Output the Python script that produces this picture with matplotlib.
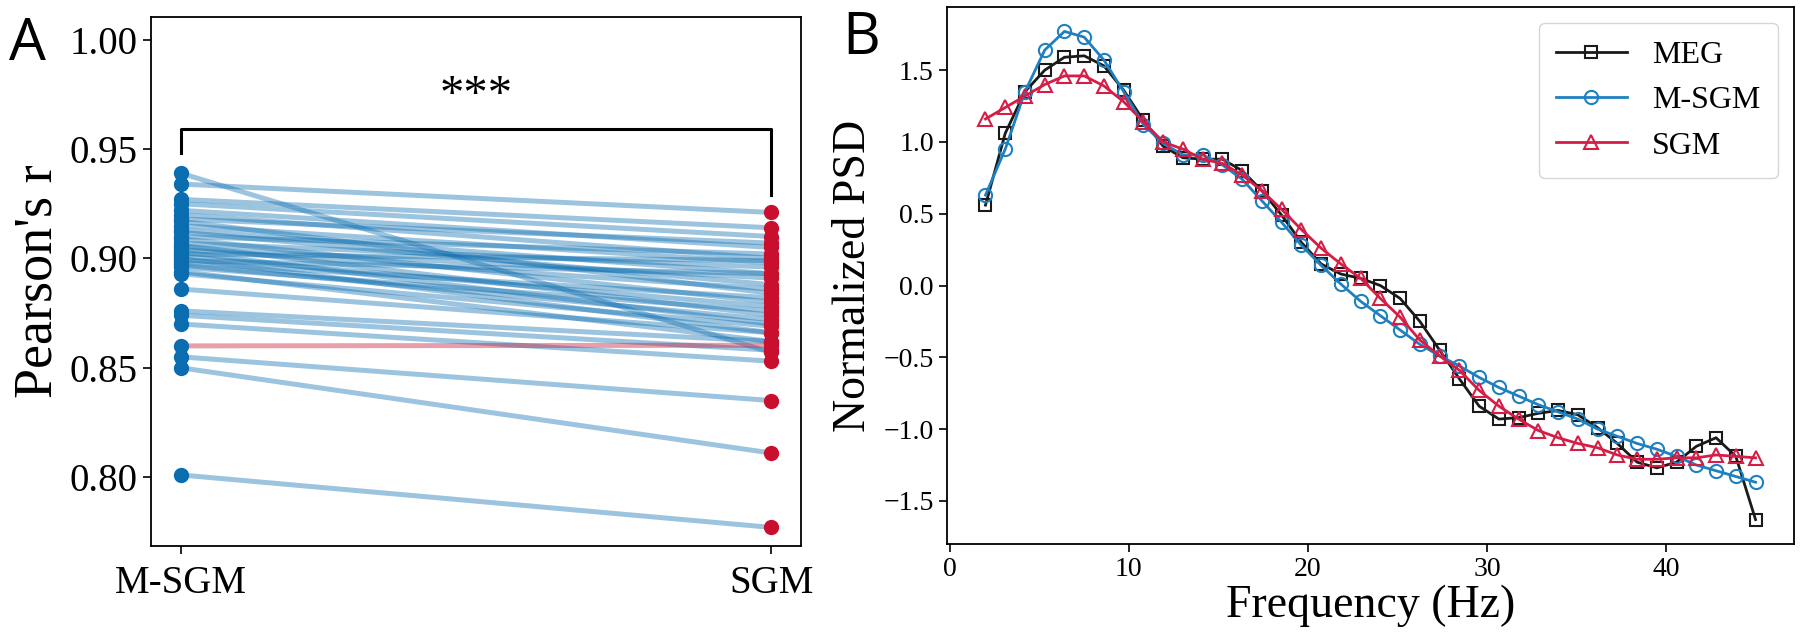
import numpy as np
import matplotlib
matplotlib.use("Agg")
import matplotlib.pyplot as plt

# panel A: per-subject Pearson's r
msgm_r = [0.939, 0.934, 0.927, 0.925, 0.922, 0.920, 0.918, 0.917, 0.915, 0.913,
          0.912, 0.910, 0.909, 0.907, 0.906, 0.905, 0.904, 0.903, 0.902, 0.901,
          0.900, 0.899, 0.898, 0.897, 0.896, 0.894, 0.893, 0.886, 0.876, 0.874,
          0.870, 0.860, 0.855, 0.850, 0.801]
sgm_r = [0.857, 0.921, 0.914, 0.910, 0.905, 0.900, 0.907, 0.884, 0.898, 0.893,
         0.888, 0.902, 0.880, 0.896, 0.874, 0.891, 0.886, 0.870, 0.899, 0.878,
         0.866, 0.893, 0.882, 0.872, 0.876, 0.862, 0.869, 0.866, 0.862, 0.858,
         0.853, 0.8603, 0.835, 0.811, 0.777]
models = ["M-SGM", "SGM"]

# panel B: normalized PSD
freqs = np.linspace(2, 45, 40)
meg = [0.56, 1.06, 1.35, 1.50, 1.59, 1.60, 1.53, 1.36, 1.15, 0.97,
       0.89, 0.88, 0.88, 0.80, 0.66, 0.49, 0.30, 0.15, 0.08, 0.05,
       0.00, -0.09, -0.25, -0.45, -0.65, -0.84, -0.93, -0.92, -0.89, -0.87,
       -0.90, -0.99, -1.10, -1.23, -1.27, -1.23, -1.12, -1.06, -1.19, -1.63]
m_sgm = [0.63, 0.95, 1.35, 1.64, 1.77, 1.73, 1.57, 1.35, 1.12, 0.99,
         0.91, 0.91, 0.84, 0.74, 0.59, 0.44, 0.28, 0.14, 0.01, -0.11,
         -0.21, -0.31, -0.41, -0.49, -0.56, -0.64, -0.71, -0.77, -0.83, -0.88,
         -0.93, -1.00, -1.05, -1.10, -1.14, -1.19, -1.25, -1.29, -1.33, -1.37]
sgm = [1.16, 1.24, 1.32, 1.40, 1.46, 1.46, 1.39, 1.28, 1.14, 1.00,
       0.95, 0.88, 0.85, 0.77, 0.66, 0.53, 0.39, 0.26, 0.15, 0.05,
       -0.09, -0.22, -0.38, -0.49, -0.59, -0.73, -0.84, -0.93, -1.01, -1.06,
       -1.10, -1.13, -1.18, -1.21, -1.21, -1.20, -1.20, -1.18, -1.19, -1.20]

blue = "#0a6db0"
red = "#c8102e"
serif = ["Liberation Serif", "DejaVu Serif"]
plt.rcParams["font.family"] = serif

fig = plt.figure(figsize=(18, 6.36), dpi=100)
axA = fig.add_axes([0.0839, 0.1415, 0.3611, 0.8315])
axB = fig.add_axes([0.5261, 0.1447, 0.4706, 0.8443])

# ---- A ----
for a, b in zip(msgm_r, sgm_r):
    c = red if b > a else blue
    axA.plot([0, 1], [a, b], color=c, alpha=0.4, lw=3.6, zorder=1)
axA.plot([0] * len(msgm_r), msgm_r, "o", color=blue, ms=10, zorder=3)
axA.plot([1] * len(sgm_r), sgm_r, "o", color=red, ms=10, zorder=3)
axA.plot([0, 0, 1, 1], [0.948, 0.959, 0.959, 0.929], color="black", lw=2.2)
axA.text(0.5, 0.964, "***", ha="center", va="bottom", fontsize=35)
axA.set_xlim(-0.05, 1.05)
axA.set_ylim(0.7685, 1.0103)
axA.set_yticks([0.80, 0.85, 0.90, 0.95, 1.00])
axA.set_xticks([0, 1])
axA.set_xticklabels(models)
axA.tick_params(axis="y", labelsize=28, length=6, width=1.2, pad=4)
axA.tick_params(axis="x", labelsize=28, length=6, width=1.2, pad=8)
axA.set_ylabel("Pearson's r", fontsize=39, labelpad=4)

# ---- B ----
axB.plot(freqs, meg, "-s", color="#1a1a1a", mfc="none", ms=9, mew=1.5, lw=2.0, label="MEG")
axB.plot(freqs, m_sgm, "-o", color="#1f80c0", mfc="none", ms=9.5, mew=1.5, lw=2.0, label="M-SGM")
axB.plot(freqs, sgm, "-^", color="#d41e45", mfc="none", ms=9.5, mew=1.5, lw=2.0, label="SGM")
axB.set_xlim(-0.15, 47.15)
axB.set_ylim(-1.80, 1.94)
axB.set_xticks([0, 10, 20, 30, 40])
axB.set_yticks([-1.5, -1.0, -0.5, 0.0, 0.5, 1.0, 1.5])
axB.tick_params(labelsize=20, length=6, width=1.2)
axB.set_xlabel("Frequency (Hz)", fontsize=33, labelpad=2)
axB.set_ylabel("Normalized PSD", fontsize=33, labelpad=6)
axB.legend(loc="upper right", fontsize=23, handlelength=2.2, borderpad=0.55,
           labelspacing=0.5, fancybox=True, borderaxespad=0.5)

for ax in (axA, axB):
    for sp in ax.spines.values():
        sp.set_linewidth(1.3)

fig.text(0.005, 0.975, "A", fontsize=42, family=["Open Sans", "DejaVu Sans"], va="top")
fig.text(0.468, 0.985, "B", fontsize=42, family=["Open Sans", "DejaVu Sans"], va="top")

fig.savefig("out.png", dpi=100)
